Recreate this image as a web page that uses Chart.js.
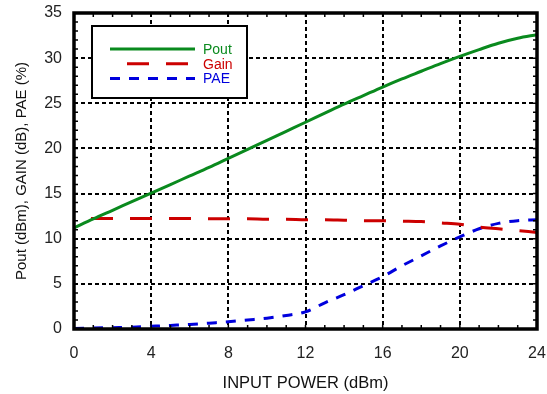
<!DOCTYPE html>
<html>
<head>
<meta charset="utf-8">
<script src="https://cdn.jsdelivr.net/npm/chart.js@4"></script>
<style>
  html, body { margin: 0; padding: 0; background: #fff; }
  #wrap { width: 547px; height: 394px; }
</style>
</head>
<body>
<div id="wrap"><canvas id="grafico"></canvas></div>
<script>
const inputPower = [0, 1, 2, 3, 4, 5, 6, 7, 8, 9, 10, 11, 12, 13, 14, 15, 16, 17, 18, 19, 20, 21, 22, 23, 24];
const pout = [11.2, 12.2, 13.15, 14.1, 15.05, 16.0, 16.95, 17.9, 18.9, 19.9, 20.9, 21.9, 22.9, 23.9, 24.9, 25.85, 26.8, 27.7, 28.55, 29.4, 30.2, 30.95, 31.65, 32.2, 32.6];
const gain = [12.2, 12.25, 12.25, 12.25, 12.25, 12.25, 12.25, 12.2, 12.2, 12.2, 12.15, 12.15, 12.1, 12.1, 12.05, 12.0, 12.0, 11.95, 11.9, 11.75, 11.6, 11.3, 11.1, 10.9, 10.7];
const pae = [0.05, 0.1, 0.15, 0.2, 0.3, 0.4, 0.5, 0.65, 0.8, 1.0, 1.2, 1.5, 1.9, 2.9, 3.8, 4.8, 5.8, 7.0, 8.1, 9.2, 10.2, 11.1, 11.7, 12.0, 12.1];
const xTicks = [0, 4, 8, 12, 16, 20, 24];
const yTicks = [0, 5, 10, 15, 20, 25, 30, 35];

const pts = arr => inputPower.map((x, i) => ({ x: x, y: arr[i] }));
const fam = '"Liberation Sans", Arial, Helvetica, sans-serif';

// frame, minor ticks and boxed legend
const framePlugin = {
  id: 'frame',
  afterDatasetsDraw(chart) {
    const { ctx, chartArea: a, scales } = chart;
    ctx.save();
    ctx.strokeStyle = '#000';
    ctx.lineWidth = 1.5;
    ctx.setLineDash([]);
    ctx.beginPath();
    for (let v = 0; v <= 24; v++) {
      const px = scales.x.getPixelForValue(v);
      ctx.moveTo(px, a.bottom); ctx.lineTo(px, a.bottom - 4);
      ctx.moveTo(px, a.top); ctx.lineTo(px, a.top + 4);
    }
    for (let v = 0; v <= 35; v++) {
      const py = scales.y.getPixelForValue(v);
      ctx.moveTo(a.left, py); ctx.lineTo(a.left + 4, py);
      ctx.moveTo(a.right, py); ctx.lineTo(a.right - 4, py);
    }
    ctx.stroke();
    ctx.lineWidth = 3.5;
    ctx.strokeRect(a.left, a.top, a.right - a.left, a.bottom - a.top);

    // legend
    const lx = a.left + 18, ly = a.top + 13;
    ctx.fillStyle = '#fff';
    ctx.fillRect(lx, ly, 155, 72);
    ctx.lineWidth = 2;
    ctx.strokeRect(lx, ly, 155, 72);
    ctx.font = '14px ' + fam;
    ctx.textBaseline = 'middle';
    chart.data.datasets.forEach((ds, i) => {
      const y = ly + 23 + i * 14.7;
      ctx.strokeStyle = ds.borderColor;
      ctx.lineWidth = ds.borderWidth;
      ctx.setLineDash(ds.borderDash || []);
      ctx.lineDashOffset = ds.borderDashOffset || 0;
      ctx.beginPath();
      ctx.moveTo(lx + 18, y);
      ctx.lineTo(lx + 103, y);
      ctx.stroke();
      ctx.fillStyle = ds.borderColor;
      ctx.fillText(ds.label, lx + 111, y + 1);
    });
    ctx.restore();
  }
};

const grafico = document.getElementById('grafico');

new Chart(grafico, {
  type: 'line',
  data: {
    datasets: [{
      label: 'Pout',
      data: pts(pout),
      borderColor: '#0a8a1e',
      borderWidth: 3,
      pointRadius: 0,
      cubicInterpolationMode: 'monotone'
    }, {
      label: 'Gain',
      data: pts(gain),
      borderColor: '#cc0000',
      borderWidth: 3,
      borderDash: [22, 17],
      borderDashOffset: 22,
      pointRadius: 0,
      cubicInterpolationMode: 'monotone'
    }, {
      label: 'PAE',
      data: pts(pae),
      borderColor: '#0000dd',
      borderWidth: 3,
      borderDash: [10, 9],
      pointRadius: 0,
      cubicInterpolationMode: 'monotone'
    }]
  },
  options: {
    responsive: true,
    maintainAspectRatio: false,
    animation: false,
    layout: { padding: { top: 13, right: 10, left: 0, bottom: 0 } },
    plugins: {
      legend: { display: false },
      tooltip: { enabled: false }
    },
    scales: {
      x: {
        type: 'linear',
        min: 0,
        max: 24,
        afterBuildTicks: s => { s.ticks = xTicks.map(v => ({ value: v })); },
        afterFit: s => { s.height = 65; },
        ticks: { color: '#222', padding: 0, font: { size: 16, family: fam } },
        grid: { color: '#000', lineWidth: 2, drawTicks: true, tickLength: 15, tickColor: 'rgba(0,0,0,0)' },
        border: { display: false, dash: [4, 3] },
        title: {
          display: true,
          text: 'INPUT POWER (dBm)',
          color: '#111',
          font: { size: 16.5, family: fam },
          padding: { top: 4, bottom: 1 }
        }
      },
      y: {
        min: 0,
        max: 35,
        afterBuildTicks: s => { s.ticks = yTicks.map(v => ({ value: v })); },
        afterFit: s => { s.width = 74; },
        ticks: { color: '#222', padding: 0, font: { size: 16, family: fam } },
        grid: { color: '#000', lineWidth: 2, drawTicks: true, tickLength: 12, tickColor: 'rgba(0,0,0,0)' },
        border: { display: false, dash: [4, 3] },
        title: {
          display: true,
          text: 'Pout (dBm), GAIN (dB), PAE (%)',
          color: '#111',
          font: { size: 15, family: fam },
          padding: { top: 13, bottom: 4 }
        }
      }
    }
  },
  plugins: [framePlugin]
});
</script>
</body>
</html>
